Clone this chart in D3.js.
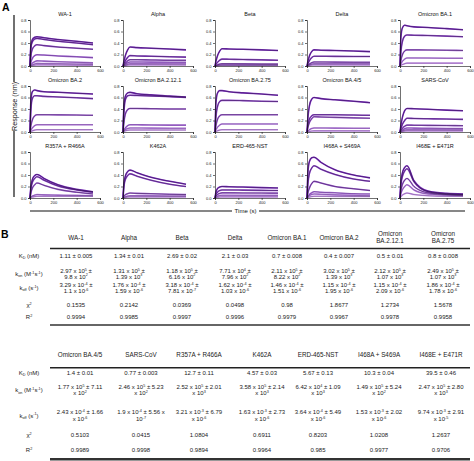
<!DOCTYPE html>
<html><head><meta charset="utf-8">
<script src="https://cdn.jsdelivr.net/npm/d3@7"></script>
<style>body{margin:0;background:#fff}svg{display:block;font-family:"Liberation Sans",Arial,sans-serif}</style>
</head><body><svg id="c" width="474" height="461"></svg>
<script>
// ---------- DATA ----------
const panelTitles = ["WA-1","Alpha","Beta","Delta","Omicron BA.1",
  "Omicron BA.2","Omicron BA.2.12.1","Omicron BA.2.75","Omicron BA.4/5","SARS-CoV",
  "R357A + R466A","K462A","ERD-465-NST","I468A + S469A","I468E + E471R"];
const times = [0, 8, 20, 40, 60, 120, 240, 400, 540];
const xTicks = [0, 200, 400, 600];
const yTicks = [0.0, 0.2, 0.4, 0.6, 0.8];

const wa1 = [
 [0,0.36,0.46,0.50,0.51,0.49,0.46,0.43,0.40],
 [0,0.32,0.42,0.47,0.48,0.46,0.43,0.40,0.37],
 [0,0.18,0.29,0.35,0.37,0.355,0.33,0.31,0.29],
 [0,0.07,0.13,0.18,0.195,0.19,0.175,0.16,0.145],
 [0,0.025,0.05,0.075,0.09,0.085,0.075,0.065,0.055],
 [0,0.01,0.02,0.035,0.045,0.043,0.04,0.035,0.03],
 [0,0.005,0.01,0.015,0.02,0.02,0.018,0.016,0.015]];
const alpha = [
 [0,0.08,0.18,0.28,0.33,0.32,0.31,0.295,0.28],
 [0,0.04,0.09,0.15,0.18,0.175,0.17,0.16,0.155],
 [0,0.02,0.05,0.09,0.11,0.11,0.105,0.10,0.10],
 [0,0.012,0.03,0.055,0.07,0.07,0.068,0.066,0.065],
 [0,0.007,0.016,0.03,0.04,0.04,0.039,0.038,0.037],
 [0,0.003,0.008,0.015,0.02,0.02,0.02,0.019,0.018]];
const beta = [
 [0,0.08,0.17,0.26,0.30,0.295,0.29,0.28,0.27],
 [0,0.03,0.06,0.10,0.12,0.118,0.113,0.107,0.10],
 [0,0.01,0.02,0.033,0.04,0.04,0.038,0.036,0.035],
 [0,0.005,0.01,0.017,0.02,0.02,0.02,0.02,0.02],
 [0,0.002,0.005,0.008,0.01,0.01,0.01,0.01,0.01]];
const delta = [
 [0,0.08,0.17,0.25,0.28,0.275,0.27,0.26,0.25],
 [0,0.04,0.09,0.145,0.17,0.17,0.168,0.166,0.165],
 [0,0.015,0.035,0.058,0.07,0.07,0.068,0.066,0.065],
 [0,0.008,0.02,0.033,0.04,0.04,0.04,0.04,0.04],
 [0,0.004,0.01,0.016,0.02,0.02,0.02,0.02,0.02]];
const ba1 = [
 [0,0.50,0.66,0.71,0.70,0.68,0.67,0.65,0.63],
 [0,0.25,0.42,0.52,0.54,0.535,0.53,0.52,0.51],
 [0,0.10,0.19,0.26,0.28,0.28,0.278,0.275,0.27],
 [0,0.04,0.08,0.12,0.14,0.14,0.138,0.136,0.135],
 [0,0.012,0.025,0.04,0.05,0.05,0.05,0.05,0.05]];
const ba2 = [
 [0,0.55,0.70,0.73,0.72,0.70,0.69,0.675,0.66],
 [0,0.40,0.58,0.63,0.63,0.62,0.61,0.595,0.58],
 [0,0.11,0.21,0.28,0.30,0.30,0.298,0.295,0.29],
 [0,0.035,0.07,0.11,0.126,0.126,0.126,0.126,0.126],
 [0,0.01,0.02,0.033,0.04,0.04,0.04,0.04,0.04]];
const ba2121 = [
 [0,0.45,0.62,0.68,0.69,0.665,0.645,0.625,0.61],
 [0,0.35,0.56,0.63,0.64,0.635,0.625,0.615,0.60],
 [0,0.17,0.31,0.39,0.41,0.41,0.405,0.40,0.40],
 [0,0.035,0.07,0.11,0.125,0.125,0.123,0.12,0.12],
 [0,0.02,0.04,0.06,0.07,0.07,0.068,0.066,0.065],
 [0,0.01,0.02,0.03,0.035,0.035,0.035,0.035,0.035]];
const ba275 = [
 [0,0.50,0.67,0.72,0.72,0.70,0.68,0.66,0.64],
 [0,0.26,0.43,0.53,0.55,0.55,0.545,0.535,0.53],
 [0,0.11,0.21,0.28,0.30,0.30,0.30,0.30,0.30],
 [0,0.04,0.08,0.12,0.14,0.14,0.14,0.14,0.14],
 [0,0.01,0.02,0.033,0.04,0.04,0.04,0.04,0.04]];
const ba45 = [
 [0,0.25,0.45,0.57,0.60,0.58,0.56,0.535,0.51],
 [0,0.12,0.22,0.28,0.30,0.30,0.30,0.295,0.29],
 [0,0.08,0.16,0.23,0.265,0.26,0.255,0.245,0.24],
 [0,0.018,0.038,0.06,0.07,0.07,0.068,0.066,0.065],
 [0,0.005,0.01,0.016,0.02,0.02,0.02,0.02,0.02]];
const sars = [
 [0,0.12,0.25,0.37,0.41,0.405,0.395,0.38,0.37],
 [0,0.06,0.13,0.20,0.24,0.235,0.23,0.225,0.22],
 [0,0.03,0.065,0.10,0.12,0.118,0.115,0.112,0.11],
 [0,0.016,0.035,0.058,0.07,0.068,0.065,0.062,0.06],
 [0,0.009,0.02,0.033,0.04,0.04,0.039,0.038,0.037],
 [0,0.004,0.01,0.016,0.02,0.02,0.02,0.02,0.02]];
const r357a = [
 [0,0.20,0.32,0.39,0.41,0.34,0.23,0.15,0.11],
 [0,0.16,0.27,0.34,0.37,0.31,0.21,0.14,0.10],
 [0,0.09,0.17,0.23,0.26,0.22,0.15,0.10,0.07],
 [0,0.02,0.035,0.05,0.06,0.055,0.05,0.045,0.04],
 [0,0.01,0.018,0.025,0.03,0.03,0.03,0.03,0.03]];
const k462a = [
 [0,0.25,0.38,0.46,0.485,0.44,0.36,0.29,0.24],
 [0,0.20,0.32,0.39,0.42,0.38,0.31,0.24,0.20],
 [0,0.03,0.055,0.075,0.086,0.08,0.075,0.065,0.06],
 [0,0.01,0.022,0.033,0.04,0.04,0.038,0.036,0.035],
 [0,0.005,0.01,0.016,0.02,0.02,0.02,0.02,0.02]];
const erd = [
 [0,0.10,0.16,0.19,0.20,0.195,0.19,0.18,0.175],
 [0,0.06,0.10,0.13,0.14,0.14,0.137,0.133,0.13],
 [0,0.035,0.06,0.08,0.09,0.09,0.088,0.086,0.085],
 [0,0.015,0.03,0.042,0.048,0.048,0.047,0.046,0.045],
 [0,0.007,0.013,0.018,0.02,0.02,0.02,0.02,0.02]];
const i468a = [
 [0,0.45,0.63,0.70,0.71,0.62,0.49,0.40,0.35],
 [0,0.25,0.42,0.52,0.56,0.50,0.41,0.33,0.29],
 [0,0.09,0.17,0.25,0.29,0.26,0.20,0.16,0.13],
 [0,0.03,0.06,0.09,0.11,0.10,0.09,0.075,0.07],
 [0,0.02,0.04,0.06,0.07,0.065,0.055,0.045,0.04],
 [0,0.008,0.016,0.025,0.03,0.03,0.028,0.026,0.025]];
const i468e = [
 [0,0.28,0.43,0.53,0.56,0.30,0.12,0.08,0.07],
 [0,0.23,0.37,0.47,0.51,0.28,0.11,0.07,0.06],
 [0,0.13,0.23,0.31,0.34,0.20,0.09,0.06,0.05],
 [0,0.08,0.14,0.20,0.23,0.14,0.07,0.05,0.04],
 [0,0.025,0.05,0.075,0.086,0.06,0.04,0.03,0.03]];
const panelData = [wa1, alpha, beta, delta, ba1, ba2, ba2121, ba275, ba45, sars, r357a, k462a, erd, i468a, i468e];

// Table B
const rowLabels = ["K_{D} (nM)", "k_{on} (M^{-1}s^{-1})", "k_{off} (s^{-1})", "χ^{2}", "R^{2}"];
const t1Heads = [["WA-1"],["Alpha"],["Beta"],["Delta"],["Omicron BA.1"],["Omicron BA.2"],["Omicron","BA.2.12.1"],["Omicron","BA.2.75"]];
const t1KD = ["1.11 ± 0.005","1.34 ± 0.01","2.69 ± 0.02","2.1 ± 0.03","0.7 ± 0.008","0.4 ± 0.007","0.5 ± 0.01","0.8 ± 0.008"];
const t1Kon = [["2.97 x 10^{5} ±","9.8 x 10^{2}"],["1.31 x 10^{5} ±","1.39 x 10^{3}"],["1.18 x 10^{5} ±","6.16 x 10^{2}"],["7.71 x 10^{4} ±","7.96 x 10^{2}"],["2.11 x 10^{5} ±","8.22 x 10^{2}"],["3.02 x 10^{5} ±","1.39 x 10^{3}"],["2.12 x 10^{5} ±","1.07 x 10^{3}"],["2.49 x 10^{5} ±","1.07 x 10^{3}"]];
const t1Koff = [["3.29 x 10^{-4} ±","1.1 x 10^{-6}"],["1.76 x 10^{-4} ±","1.59 x 10^{-6}"],["3.18 x 10^{-4} ±","7.81 x 10^{-7}"],["1.62 x 10^{-4} ±","1.03 x 10^{-6}"],["1.46 x 10^{-4} ±","1.51 x 10^{-6}"],["1.15 x 10^{-4} ±","1.95 x 10^{-6}"],["1.15 x 10^{-4} ±","2.09 x 10^{-6}"],["1.86 x 10^{-4} ±","1.78 x 10^{-6}"]];
const t1Chi = ["0.1535","0.2142","0.0369","0.0498","0.98","1.8677","1.2734","1.5678"];
const t1R2 = ["0.9994","0.9985","0.9997","0.9996","0.9979","0.9967","0.9978","0.9958"];

const t2Heads = [["Omicron BA.4/5"],["SARS-CoV"],["R357A + R466A"],["K462A"],["ERD-465-NST"],["I468A + S469A"],["I468E + E471R"]];
const t2KD = ["1.4 ± 0.01","0.77 ± 0.003","12.7 ± 0.11","4.57 ± 0.03","5.67 ± 0.13","10.3 ± 0.04","39.5 ± 0.46"];
const t2Kon = [["1.77 x 10^{5} ± 7.11","x 10^{2}"],["2.46 x 10^{5} ± 5.23","x 10^{2}"],["2.52 x 10^{5} ± 2.01","x 10^{3}"],["3.58 x 10^{5} ± 2.14","x 10^{3}"],["6.42 x 10^{4} ± 1.09","x 10^{3}"],["1.49 x 10^{5} ± 5.24","x 10^{2}"],["2.47 x 10^{5} ± 2.80","x 10^{3}"]];
const t2Koff = [["2.43 x 10^{-4} ± 1.66","x 10^{-6}"],["1.9 x 10^{-4} ± 5.56 x","10^{-7}"],["3.21 x 10^{-3} ± 6.79","x 10^{-6}"],["1.63 x 10^{-3} ± 2.73","x 10^{-6}"],["3.64 x 10^{-4} ± 5.49","x 10^{-6}"],["1.53 x 10^{-3} ± 2.02","x 10^{-6}"],["9.74 x 10^{-3} ± 2.91","x 10^{-5}"]];
const t2Chi = ["0.5103","0.0415","1.0804","0.6911","0.8203","1.0208","1.2637"];
const t2R2 = ["0.9989","0.9998","0.9894","0.9964","0.985","0.9977","0.9706"];

// ---------- DRAW ----------
const svg = d3.select("#c");
const FONT = '"Liberation Sans", Arial, sans-serif';

function rich(textSel, str, fs) {
  const re = /(\^|_)\{([^}]*)\}/g;
  let last = 0, m, cur = 0;
  const parts = [];
  while ((m = re.exec(str)) !== null) {
    if (m.index > last) parts.push({t: str.slice(last, m.index), s: 0});
    parts.push({t: m[2], s: m[1] === "^" ? -1 : 1});
    last = re.lastIndex;
  }
  if (last < str.length) parts.push({t: str.slice(last), s: 0});
  parts.forEach(p => {
    const target = p.s === 0 ? 0 : (p.s < 0 ? -fs * 0.36 : fs * 0.2);
    textSel.append("tspan").attr("dy", target - cur)
      .attr("font-size", p.s === 0 ? fs : fs * 0.62).text(p.t);
    cur = target;
  });
}

// Panel letters
svg.append("text").attr("x", 2).attr("y", 11).attr("font-size", 10.5).attr("font-weight", "bold").text("A");
svg.append("text").attr("x", 1).attr("y", 238).attr("font-size", 10.5).attr("font-weight", "bold").text("B");

// Grid of kinetic plots
const colX = [30, 123, 215, 307, 400];
const rowY = [66, 132, 198];
const PW = 70, PH = 46;
const colorScale = d3.scaleLinear().domain([0, 1]).range(["#7d2fc4", "#cf9cf2"]);

panelData.forEach((curves, i) => {
  const x0 = colX[i % 5], yb = rowY[Math.floor(i / 5)];
  const xs = d3.scaleLinear().domain([0, 600]).range([x0, x0 + PW]);
  const ys = d3.scaleLinear().domain([0, 0.8]).range([yb, yb - PH]);
  const g = svg.append("g");
  const n = curves.length;
  const line = d3.line().x((d, j) => xs(times[j])).y(d => ys(d)).curve(d3.curveMonotoneX);
  curves.slice().reverse().forEach((c, k) => {
    const idx = n - 1 - k;
    g.append("path").attr("d", line(c)).attr("fill", "none")
      .attr("stroke", colorScale(n > 1 ? idx / (n - 1) : 0)).attr("stroke-width", 1.6);
  });
  curves.forEach((c, k) => {
    g.append("path").attr("d", line(c)).attr("fill", "none")
      .attr("stroke", "#1c0a2a").attr("stroke-width", 0.5).attr("stroke-opacity", k < 3 ? 0.9 : 0.6);
  });
  const ya = g.append("g").attr("transform", `translate(${x0},0)`)
    .call(d3.axisLeft(ys).tickValues(yTicks).tickFormat(d3.format(".1f")).tickSize(2).tickPadding(1.5));
  const xa = g.append("g").attr("transform", `translate(0,${yb})`)
    .call(d3.axisBottom(xs).tickValues(xTicks).tickFormat(d3.format("d")).tickSize(2).tickPadding(1.5));
  [ya, xa].forEach(a => {
    a.selectAll("path,line").attr("stroke", "#111").attr("stroke-width", 0.6);
    a.selectAll("text").attr("font-size", 4).attr("font-family", FONT).attr("fill", "#222");
  });
  g.append("text").attr("x", x0 + PW / 2).attr("y", yb - PH - 4).attr("text-anchor", "middle")
    .attr("font-size", 5.5).attr("fill", "#111").text(panelTitles[i]);
});

// Response label + split line
svg.append("line").attr("x1", 14).attr("x2", 14).attr("y1", 15).attr("y2", 82).attr("stroke", "#111").attr("stroke-width", 1.2);
svg.append("line").attr("x1", 14).attr("x2", 14).attr("y1", 131).attr("y2", 197).attr("stroke", "#111").attr("stroke-width", 1.2);
svg.append("text").attr("transform", "translate(16.5,106.5) rotate(-90)").attr("text-anchor", "middle")
  .attr("font-size", 7.2).attr("fill", "#111").text("Response (nm)");

// Time label + split line
svg.append("line").attr("x1", 30).attr("x2", 232).attr("y1", 211).attr("y2", 211).attr("stroke", "#111").attr("stroke-width", 1.2);
svg.append("line").attr("x1", 259).attr("x2", 465).attr("y1", 211).attr("y2", 211).attr("stroke", "#111").attr("stroke-width", 1.2);
svg.append("text").attr("x", 245.5).attr("y", 213).attr("text-anchor", "middle").attr("font-size", 6).attr("fill", "#111").text("Time (s)");

// Tables
const FS = 6;
function cellText(x, y, str, fs) {
  const t = svg.append("text").attr("x", x).attr("y", y).attr("text-anchor", "middle")
    .attr("font-size", fs || FS).attr("fill", "#1a1a1a").attr("dy", "0.35em");
  rich(t, str, fs || FS);
}
function drawTable(cfg) {
  const {cols, heads, KD, Kon, Koff, Chi, R2, y} = cfg;
  cols.forEach((cx, j) => {
    const h = heads[j];
    if (h.length === 1) cellText(cx, y.head, h[0], 6.3);
    else { cellText(cx, y.head - 3.3, h[0], 6.3); cellText(cx, y.head + 3.3, h[1], 6.3); }
    cellText(cx, y.kd, KD[j]);
    cellText(cx, y.kon[0], Kon[j][0]); cellText(cx, y.kon[1], Kon[j][1]);
    cellText(cx, y.koff[0], Koff[j][0]); cellText(cx, y.koff[1], Koff[j][1]);
    cellText(cx, y.chi, Chi[j]);
    cellText(cx, y.r2, R2[j]);
  });
  const ly = [y.kd, (y.kon[0] + y.kon[1]) / 2, (y.koff[0] + y.koff[1]) / 2, y.chi, y.r2];
  rowLabels.forEach((l, k) => cellText(29, ly[k], l));
  svg.append("line").attr("x1", 50).attr("x2", 470).attr("y1", y.top).attr("y2", y.top).attr("stroke", "#222").attr("stroke-width", 1.4);
  svg.append("line").attr("x1", 50).attr("x2", 470).attr("y1", y.bottom).attr("y2", y.bottom).attr("stroke", "#333").attr("stroke-width", cfg.bw);
}
drawTable({cols: [76, 129, 182, 235, 287, 339, 390, 443], heads: t1Heads, KD: t1KD, Kon: t1Kon, Koff: t1Koff, Chi: t1Chi, R2: t1R2,
  y: {head: 239.5, top: 248.5, kd: 257.5, kon: [272.8, 278.6], koff: [287.3, 293.1], chi: 306.7, r2: 319, bottom: 325}, bw: 1.4});
drawTable({cols: [80, 141, 199, 262, 318, 379, 441], heads: t2Heads, KD: t2KD, Kon: t2Kon, Koff: t2Koff, Chi: t2Chi, R2: t2R2,
  y: {head: 356.7, top: 367.7, kd: 375, kon: [389.3, 395.3], koff: [414.3, 421], chi: 436.7, r2: 451.7, bottom: 459.3}, bw: 2.4});
</script></body></html>
